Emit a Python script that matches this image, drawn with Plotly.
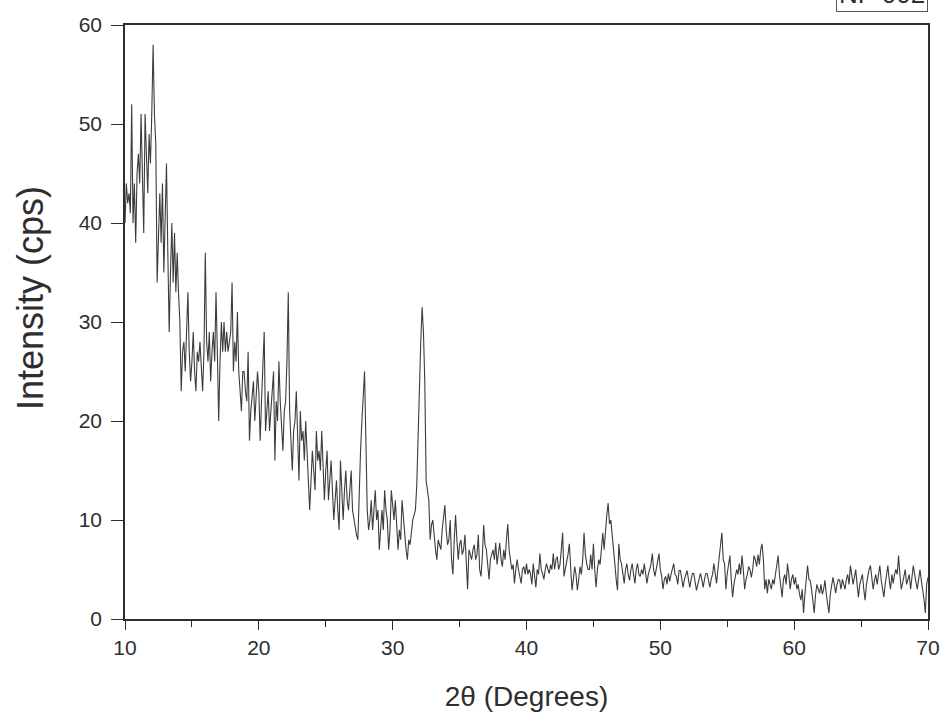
import plotly.graph_objects as go

start_angle = 10.0
step_angle = 0.1

intensity = [
    40, 44, 42, 43, 41, 52, 40, 44, 38, 45,
    47, 44, 51, 45, 39, 51, 46, 43, 49, 46,
    51, 58, 51, 48, 34, 40, 43, 38, 44, 35,
    41, 46, 37, 29, 35, 40, 34, 39, 33, 37,
    33, 30, 23, 27, 28, 25, 29, 33, 27, 24,
    26, 29, 25, 23, 27, 26, 28, 25, 23, 27,
    37, 28, 26, 29, 24, 27, 29, 26, 33, 27,
    20, 26, 30, 27, 30, 27, 29, 27, 28, 29,
    34, 25, 28, 26, 31, 25, 23, 21, 25, 25,
    23, 22, 27, 18, 21, 23, 24, 20, 22, 25,
    23, 18, 22, 25, 29, 19, 21, 23, 19, 21,
    22, 25, 16, 22, 20, 26, 22, 19, 17, 21,
    22, 26, 33, 21, 18, 15, 19, 20, 23, 18,
    14, 21, 18, 19, 16, 20, 17, 15, 11, 14,
    17, 15, 13, 19, 16, 17, 15, 19, 15, 12,
    15, 17, 12, 14, 16, 13, 10, 12, 14, 11,
    9, 16, 12, 10, 13, 15, 12, 11, 13, 15,
    11, 10, 9, 8.5, 8, 14, 17, 20, 22, 25,
    18, 11, 9, 10, 12, 9, 11, 13, 10, 11,
    7, 9, 11, 9, 13, 11, 10, 7, 9, 13,
    11, 10, 12, 9, 7, 9, 8, 12, 10, 8.5,
    7, 6, 8, 7.5, 9, 10, 10.5, 11, 13.5, 18,
    25, 28, 31.5, 29, 24, 14, 13, 12, 8, 9.5,
    10, 8, 7, 6, 8, 7.5, 7, 9, 10, 11.5,
    9, 7.5, 8, 10, 6, 4.5, 8, 10.5, 8, 6,
    7.5, 8, 6.5, 7, 8.5, 5, 3, 7, 6.5, 6,
    7, 7.5, 6, 6.5, 8.5, 5, 4.3, 6.3, 9.5, 7.5,
    7, 5.5, 4, 6, 6.5, 7, 6, 7.7, 5.5, 6.5,
    7.7, 6, 5.3, 7, 6, 8, 9.6, 7, 6, 5,
    5.5, 3.6, 5, 6, 5, 4.3, 3.6, 5, 5.3, 4.5,
    5.6, 4.5, 5, 4.6, 3.5, 5.6, 4.5, 3.2, 5, 4.5,
    6.6, 5, 4.6, 4, 5, 5.6, 5, 4.6, 5.5, 5,
    6.6, 5, 6, 6.3, 5, 5.5, 7, 8.7, 4.3, 5,
    5.6, 6.5, 7.6, 5, 2.9, 4, 5.3, 4.5, 2.9, 4,
    5.3, 4.5, 6, 8.7, 6.5, 5.6, 5, 5, 6.5, 5,
    7.6, 5, 3.2, 5, 6, 5.5, 7.5, 8.7, 7, 9,
    10.5, 11.7, 9.6, 10, 8.7, 7, 5.6, 4, 2.9, 7.6,
    6, 5.6, 4.5, 3.6, 5, 5.6, 4.5, 3.9, 5, 5.6,
    4.5, 3.6, 5, 5.6, 4.5, 4.3, 5, 4.5, 5.6, 4.5,
    3.6, 4.5, 5, 5.5, 6.6, 5, 4.3, 5, 6, 6.6,
    5, 4.3, 3, 4, 4.3, 3.5, 4.6, 3.8, 4.5, 5,
    5.6, 4.5, 4.3, 3.5, 4.9, 4.9, 4, 3.2, 4, 4.5,
    4.9, 4, 3.2, 4, 4.6, 4.6, 3.5, 2.9, 3.5, 4,
    4.6, 4, 3.2, 4, 4.6, 4.6, 3.8, 3.2, 4, 4.5,
    5.6, 4.5, 3.6, 5, 6, 7.5, 8.7, 6, 5.6, 3,
    4.6, 5.5, 6.4, 4, 2.2, 3.5, 4.2, 5, 4.5, 5.6,
    4.5, 6.4, 5, 3, 4, 4.5, 5.3, 5, 4.2, 5,
    6.4, 6, 5.3, 6.5, 5.5, 7, 7.6, 6, 3, 4,
    2.6, 4, 3.5, 3, 4, 3.5, 4.5, 5.5, 6.4, 4.5,
    3, 2.2, 4, 4.5, 3.5, 5.6, 4.5, 3, 4, 4.5,
    3.5, 4.2, 3, 3.5, 2.5, 1.9, 3, 0.6, 2.5, 4,
    5.4, 4, 3.9, 3, 2, 0.6, 2.5, 3.5, 3, 2.6,
    3.5, 2.5, 3, 3.9, 2.5, 1.5, 0.6, 2.5, 3.5, 4.2,
    3.5, 2.6, 3.5, 4, 3.9, 3, 4, 3.5, 3, 4,
    4.5, 3.5, 5.4, 4.5, 3.5, 4.2, 5, 3.5, 2.2, 3.5,
    3.9, 4.5, 3, 1.9, 3.5, 4.5, 5, 5.4, 4, 3,
    3.9, 4.5, 3.5, 4.5, 5.4, 4, 3, 2.2, 3.5, 4.5,
    5.4, 4, 3, 4.5, 3.6, 4.5, 5, 4.5, 6.4, 4.5,
    3, 3.6, 4.5, 5, 3.5, 3.9, 4.5, 3, 4.5, 5.4,
    4.5, 3.5, 3, 4, 5, 3.9, 3, 2, 0.6, 3.5,
    4.2,
]

two_theta = [round(start_angle + step_angle * i, 1) for i in range(len(intensity))]

x_ticks = [10, 20, 30, 40, 50, 60, 70]
y_ticks = [0, 10, 20, 30, 40, 50, 60]
sample_label = "NP 002"
x_title = "2θ (Degrees)"
y_title = "Intensity (cps)"

font_family = "Liberation Sans, Arial, sans-serif"
ink = "#2e2e2e"

fig = go.Figure()
fig.add_trace(go.Scatter(
    x=two_theta, y=intensity, mode="lines",
    line=dict(color="#3a3d40", width=1.1),
    showlegend=False,
))

axis_common = dict(
    showline=True, linecolor=ink, linewidth=1.5, mirror=True,
    showgrid=False, zeroline=False, automargin=False,
    ticks="outside", tickwidth=1.3, tickcolor=ink,
    tickfont=dict(family=font_family, size=21, color=ink),
)

fig.update_layout(
    width=941, height=713,
    margin=dict(l=125, r=13, t=25, b=94),
    paper_bgcolor="white", plot_bgcolor="white",
    xaxis=dict(
        range=[10, 70], tickvals=x_ticks, ticklen=9,
        minor=dict(ticks="outside", ticklen=6, tickwidth=1.3, tickcolor=ink, dtick=5, tick0=10),
        title=dict(text=x_title, font=dict(family=font_family, size=28, color=ink), standoff=28),
        **axis_common,
    ),
    yaxis=dict(
        range=[0, 60], tickvals=y_ticks, ticklen=12, ticklabelstandoff=5,
        **axis_common,
    ),
    annotations=[
        dict(
            text=y_title, xref="paper", yref="paper",
            x=-0.1183, y=0.5404, xanchor="center", yanchor="middle",
            textangle=-90, showarrow=False,
            font=dict(family=font_family, size=36, color=ink),
        ),
        dict(
            text=sample_label, xref="paper", yref="paper",
            x=1.0, y=1.0219, xanchor="right", yanchor="bottom",
            showarrow=False,
            font=dict(family=font_family, size=26, color=ink),
            bordercolor="#555555", borderwidth=1, borderpad=2,
            bgcolor="white",
        ),
    ],
)

fig.write_html(
    "out.html",
    config={"displayModeBar": False},
    post_script="document.body.style.margin='0px';",
)
